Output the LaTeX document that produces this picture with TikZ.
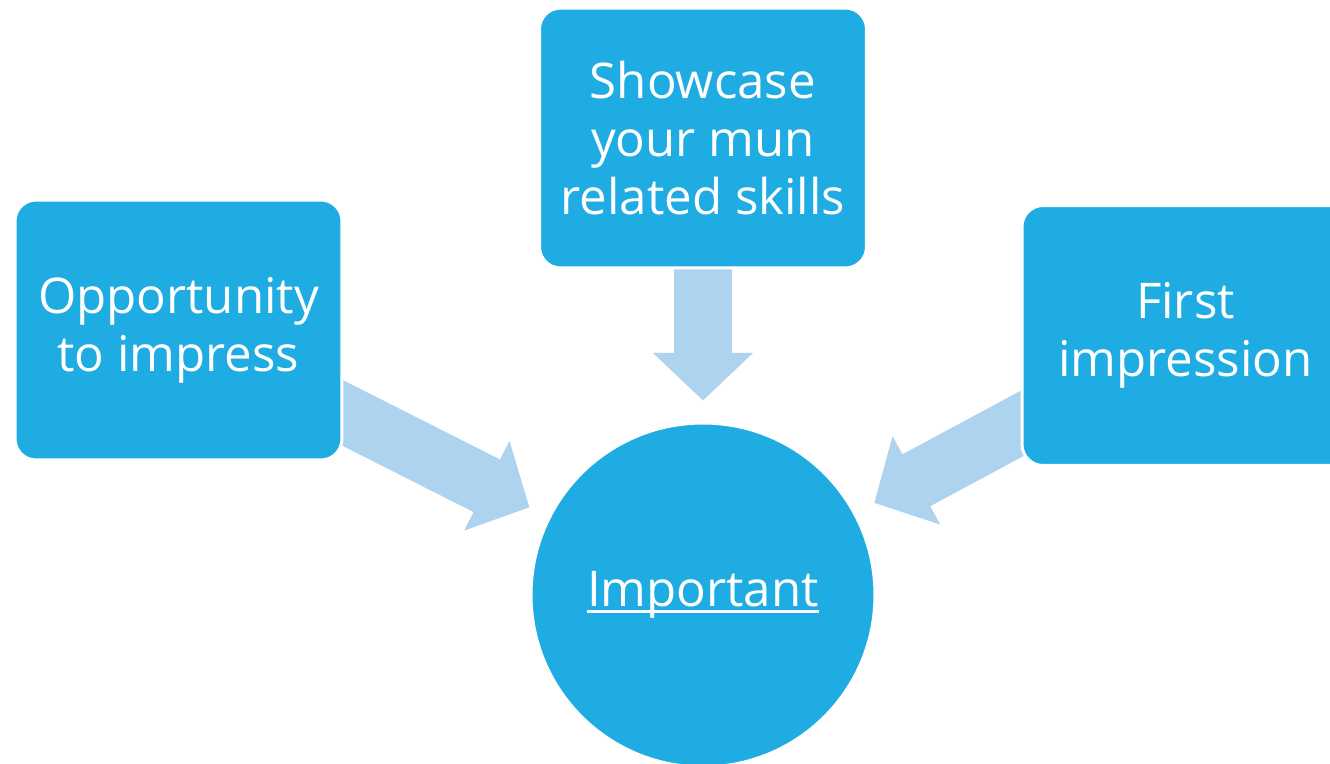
\documentclass[tikz,border=0pt]{standalone}
\usepackage{fontspec}
\setmainfont{Open Sans}
\usepackage{tikz}
\usetikzlibrary{arrows.meta,shapes,backgrounds}

\definecolor{boxblue}{HTML}{1EACE2}
\definecolor{arrowblue}{HTML}{ADD3EF}
\newcommand{\ulthick}[1]{\setbox0\hbox{#1}\rlap{\rule[-0.13em]{\wd0}{0.06em}}\box0}

\begin{document}
\begin{tikzpicture}[x=0.02cm,y=-0.02cm,
    box/.style={draw=white,line width=1.7pt,fill=boxblue,rounded corners=12pt,
      minimum width=6.54cm,minimum height=5.2cm,align=center,text=white,
      font=\fontsize{28}{33}\selectfont},
    bigarrow/.style={draw=arrowblue,line width=33.5pt,shorten >=0.42cm,
      -{Triangle[width=55.6pt,length=27.2pt]}}]

    \useasboundingbox (0,0) rectangle (1330,764);

    \node (opp) at (178.5,330)[box] {Opportunity\\to impress};
    \node (skills) at (703,138)[box] {Showcase\\your mun\\related skills};
    \node (first) at (1185.5,335.5)[box] {First\\impression};
    \node (imp) at (703,595)[box,circle,minimum size=6.88cm] {\ulthick{Important}};

    \begin{pgfonlayer}{background}
    \draw [bigarrow] (opp.center) to (imp);
    \draw [bigarrow] (skills.center) to (imp);
    \draw [bigarrow] (first.center) to (imp);
    \end{pgfonlayer}
\end{tikzpicture}
\end{document}
